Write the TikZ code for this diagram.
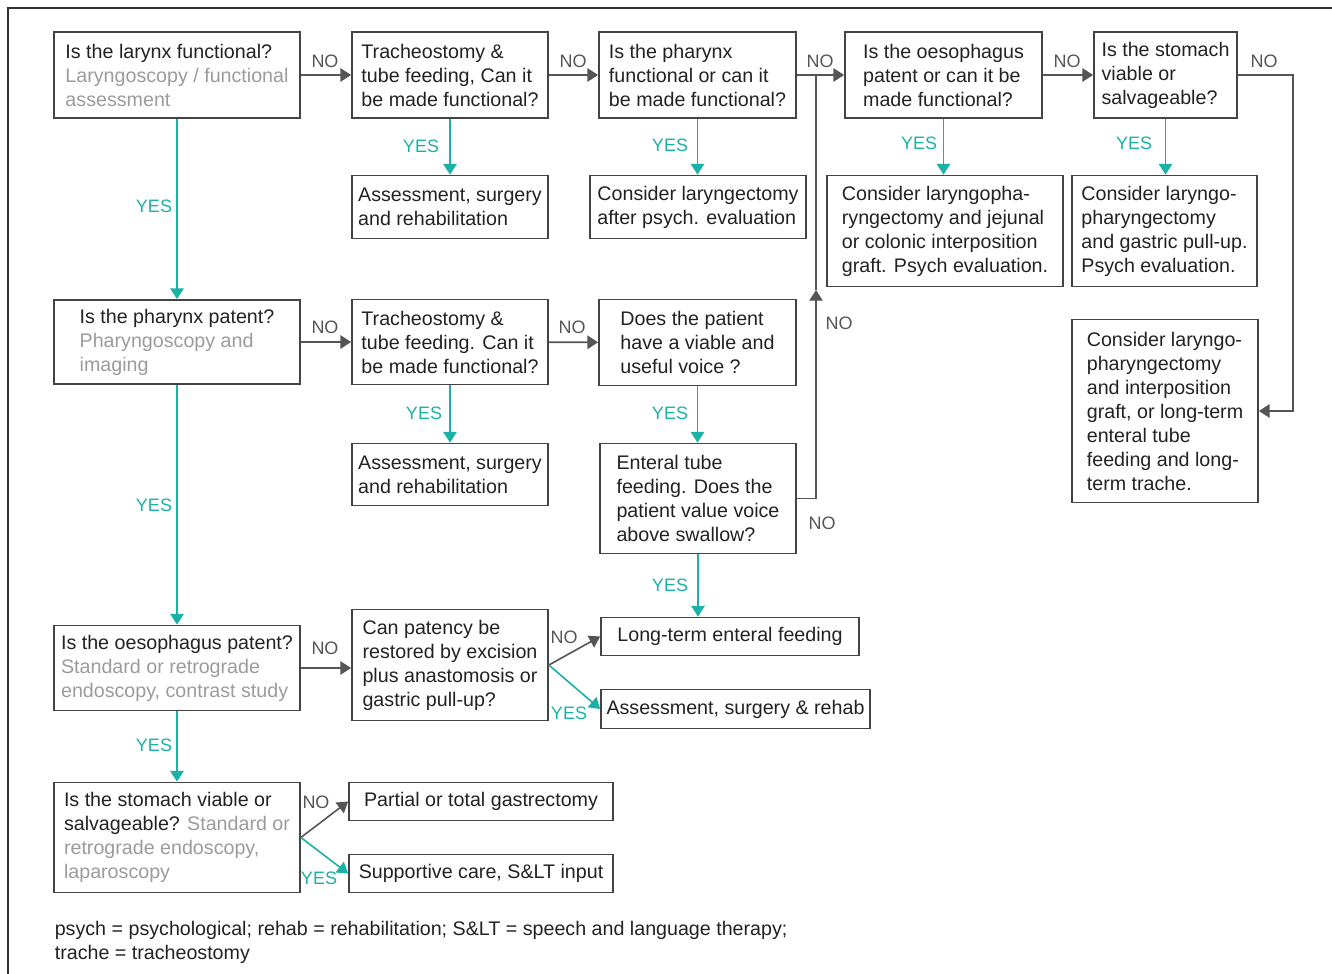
\documentclass[tikz,border=0pt]{standalone}
\usepackage{fontspec}
\setmainfont{Liberation Sans}
\usetikzlibrary{arrows.meta}
\definecolor{yescol}{RGB}{26,178,166}
\definecolor{nocol}{RGB}{85,85,85}
\definecolor{boxcol}{RGB}{68,68,68}
\definecolor{txtcol}{RGB}{34,34,34}
\definecolor{subcol}{RGB}{155,155,155}
\newcommand{\subtxt}[1]{\textcolor{subcol}{#1}}

\begin{document}
\begin{tikzpicture}[x=0.75pt, y=-0.75pt,
  >={Triangle[length=8pt, width=10pt]}, line width=1.2pt,
  box/.style={draw=boxcol, line width=1.3pt, align=left, text=txtcol,
    font=\fontsize{14.75}{18}\selectfont},
  sz/.style 2 args={minimum width=#1*0.75pt, minimum height=#2*0.75pt},
  no/.style={->, draw=nocol},
  yes/.style={->, draw=yescol},
  nolab/.style={text=nocol, inner sep=0pt, font=\fontsize{13.5}{16}\selectfont},
  yeslab/.style={text=yescol, inner sep=0pt, font=\fontsize{13.5}{16}\selectfont}]
  \useasboundingbox (0,0) rectangle (1332,974);
  % frame (top and left only)
  \draw[line width=1.5pt, black!80] (8,974) -- (8,8) -- (1332,8);

  % first row: larynx, pharynx, oesophagus, stomach
  \node[box, sz={246}{86}] (lar) at (177,75)
    {Is the larynx functional?\\ \subtxt{Laryngoscopy / functional}\\ \subtxt{assessment}};
  \node[box, sz={196}{86}] (trA) at (450,75)
    {Tracheostomy \&\\ tube feeding, Can it\\ be made functional?};
  \node[box, sz={197}{86}] (phA) at (697.5,75)
    {Is the pharynx\\ functional or can it\\ be made functional?};
  \node[box, sz={197}{86}] (oeA) at (943.5,75)
    {Is the oesophagus\\ patent or can it be\\ made functional?};
  \node[box, sz={143}{86}] (stA) at (1165.5,75)
    {Is the stomach\\ viable or\\ salvageable?};
  % outcomes of the first row
  \node[box, sz={196}{63}] (asA) at (450,207)
    {Assessment, surgery\\ and rehabilitation};
  \node[box, sz={216}{63}] (lgy) at (698,207)
    {Consider laryngectomy\\ after psych. evaluation};
  \node[box, sz={236}{111}] (jej) at (945,231)
    {Consider laryngopha-\\ ryngectomy and jejunal\\ or colonic interposition\\ graft. Psych evaluation.};
  \node[box, sz={185}{111}] (gpu) at (1164.5,231)
    {Consider laryngo-\\ pharyngectomy\\ and gastric pull-up.\\ Psych evaluation.};
  \node[box, sz={186}{183}] (ltt) at (1165,411)
    {Consider laryngo-\\ pharyngectomy\\ and interposition\\ graft, or long-term\\ enteral tube\\ feeding and long-\\ term trache.};

  % second row: pharynx patent
  \node[box, sz={246}{84}] (phB) at (177,342)
    {Is the pharynx patent?\\ \subtxt{Pharyngoscopy and}\\ \subtxt{imaging}};
  \node[box, sz={196}{85}] (trB) at (450,342)
    {Tracheostomy \&\\ tube feeding. Can it\\ be made functional?};
  \node[box, sz={197}{86}] (voi) at (697.5,342.5)
    {Does the patient\\ have a viable and\\ useful voice ?};
  \node[box, sz={196}{62}] (asB) at (450,474.5)
    {Assessment, surgery\\ and rehabilitation};
  \node[box, sz={196}{110}] (ent) at (698,498.5)
    {Enteral tube\\ feeding. Does the\\ patient value voice\\ above swallow?};

  % third row: oesophagus patent
  \node[box, sz={246}{85}] (oeB) at (177,668)
    {Is the oesophagus patent?\\ \subtxt{Standard or retrograde}\\ \subtxt{endoscopy, contrast study}};
  \node[box, sz={196}{111}] (exc) at (450,665)
    {Can patency be\\ restored by excision\\ plus anastomosis or\\ gastric pull-up?};
  \node[box, sz={258}{38}] (ltf) at (730,636.5) {Long-term enteral feeding};
  \node[box, sz={269}{39}] (asC) at (735.5,709) {Assessment, surgery \& rehab};

  % fourth row: stomach
  \node[box, sz={246}{110}] (stB) at (177,837.5)
    {Is the stomach viable or\\ salvageable? \subtxt{Standard or}\\ \subtxt{retrograde endoscopy,}\\ \subtxt{laparoscopy}};
  \node[box, sz={264}{38}] (gas) at (481,801.5) {Partial or total gastrectomy};
  \node[box, sz={264}{38}] (sup) at (481,873.5) {Supportive care, S\&LT input};

  % NO connectors
  \draw[no] (lar) -- (trA);
  \draw[no] (trA) -- (phA);
  \draw[no] (phA) -- (oeA);
  \draw[no] (oeA) -- (stA);
  \coordinate (rgt) at (1293,75);
  \draw[no] (stA.east) -- (rgt) |- (ltt.east);
  \draw[no] (phB) -- (trB);
  \draw[no] (trB) -- (voi);
  \coordinate (up) at (816,290);
  \draw[no] (ent.east) -| (up);
  \draw[draw=nocol] (up) -- (up |- phA.east);
  \draw[no] (oeB.east) -- (oeB.east -| exc.west);
  \draw[no] (exc.east) -- (ltf.west);
  \draw[no] (stB.east) -- (gas.west);

  % YES connectors
  \draw[yes] (lar) -- (phB);
  \draw[yes] (trA) -- (asA);
  \draw[yes] (phA.south) -- (phA.south |- lgy.north);
  \draw[yes] (oeA.south) -- (oeA.south |- jej.north);
  \draw[yes] (stA.south) -- (stA.south |- gpu.north);
  \draw[yes] (phB) -- (oeB);
  \draw[yes] (trB) -- (asB);
  \draw[yes] (voi.south) -- (voi.south |- ent.north);
  \draw[yes] (ent.south) -- (ent.south |- ltf.north);
  \draw[yes] (exc.east) -- (asC.west);
  \draw[yes] (oeB) -- (stB);
  \draw[yes] (stB.east) -- (sup.west);

  % labels
  \foreach \x/\y [count=\i] in {325/61, 573/61, 820/61, 1067/61, 1264/61,
      325/327, 572/327, 839/323, 822/523, 325/648, 564/637, 316/802}
    \node[nolab] (no\i) at (\x,\y) {NO};
  \foreach \x/\y [count=\i] in {154/206, 421/146, 670/145, 919/143, 1134/143,
      154/505, 424/413, 670/413, 670/585, 154/745, 569/713, 319/878}
    \node[yeslab] (yes\i) at (\x,\y) {YES};

  % footnote
  \node[align=left, anchor=north west, inner sep=0pt, text=txtcol,
    font=\fontsize{14.75}{18}\selectfont] (note) at (54,920)
    {psych = psychological; rehab = rehabilitation; S\&LT = speech and language therapy;\\
     trache = tracheostomy};
\end{tikzpicture}
\end{document}
